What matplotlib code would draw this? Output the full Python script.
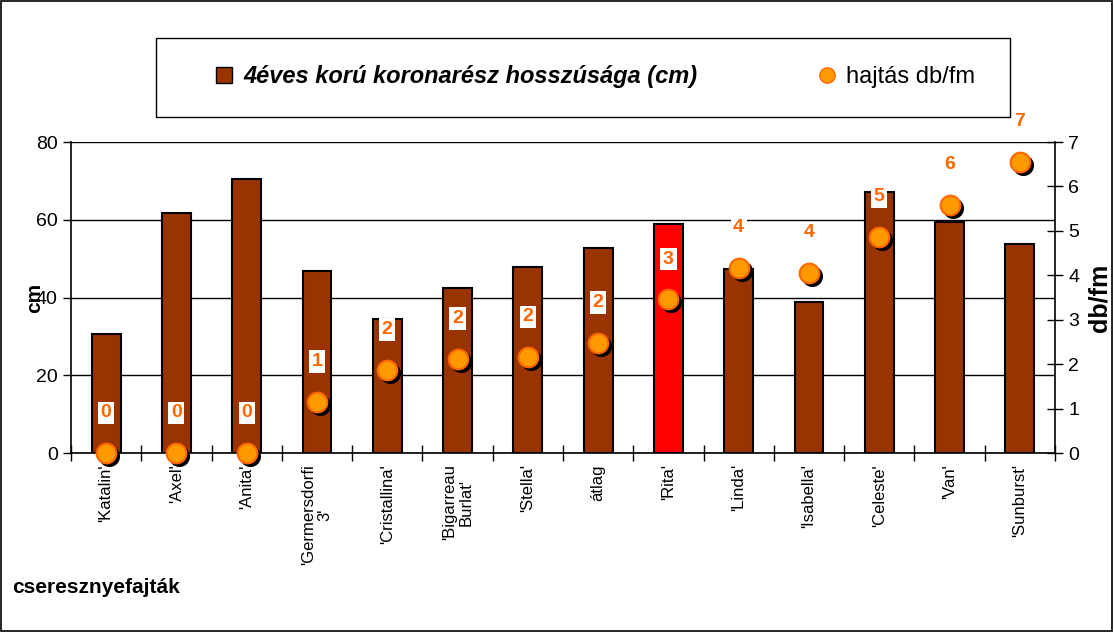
import numpy as np
import matplotlib
matplotlib.use("Agg")
import matplotlib.pyplot as plt
from matplotlib.patches import Rectangle
from matplotlib.lines import Line2D
from matplotlib.transforms import offset_copy

plt.rcParams['font.family'] = ['Liberation Sans', 'DejaVu Sans']

## data
fajtak = ["'Katalin'", "'Axel'", "'Anita'", "'Germersdorfi\n3'", "'Cristallina'",
          "'Bigarreau\nBurlat'", "'Stella'", "átlag", "'Rita'", "'Linda'",
          "'Isabella'", "'Celeste'", "'Van'", "'Sunburst'"]
hossz_cm = [30.6, 61.7, 70.5, 46.8, 34.5, 42.4, 47.8, 52.7, 58.9, 47.3, 38.8, 67.1, 59.4, 53.8]
hajtas_dbfm = [0, 0, 0, 1.15, 1.87, 2.12, 2.16, 2.48, 3.46, 4.16, 4.05, 4.86, 5.58, 6.55]
kiemelt = "'Rita'"

barna = '#993300'
piros = '#FF0000'
narancs = '#FF9900'
narancs_sotet = '#FF6600'

x = np.arange(len(fajtak))
colors = [piros if f == kiemelt else barna for f in fajtak]

fig = plt.figure(figsize=(11.14, 6.32), dpi=100)
ax = fig.add_axes([0.0637, 0.2832, 0.8833, 0.4921])
ax2 = ax.twinx()

# bars - left axis
ax.bar(x, hossz_cm, width=0.41, color=colors, edgecolor='black', linewidth=1.5, zorder=2)
ax.set_ylim(0, 80)
ax.set_yticks([0, 20, 40, 60, 80])
ax.set_xlim(-0.5, len(fajtak) - 0.5)
ax.set_axisbelow(True)
ax.yaxis.grid(True, color='black', linewidth=1)
ax.set_xticks(x)
ax.set_xticklabels(fajtak, rotation=90, fontsize=12, linespacing=1.1, va='top', ha='center')
ax.tick_params(axis='x', which='major', length=0, pad=8)
ax.set_xticks(np.arange(-0.5, len(fajtak), 1), minor=True)
ax.tick_params(axis='x', which='minor', length=12, direction='inout', width=1)
ax.tick_params(axis='y', labelsize=14, length=6, direction='out', width=1)
ax.spines['top'].set_visible(False)
ax.spines['right'].set_visible(False)
ax.spines['left'].set_linewidth(1.2)
ax.spines['bottom'].set_linewidth(1.2)
ax.set_ylabel('cm', fontsize=15, fontweight='bold', labelpad=-6)

# points - right axis
ax2.set_ylim(0, 7)
ax2.set_yticks(range(0, 8))
ax2.tick_params(axis='y', labelsize=14, length=12, direction='inout', width=1)
ax2.spines['top'].set_visible(False)
ax2.spines['left'].set_visible(False)
ax2.spines['bottom'].set_visible(False)
ax2.spines['right'].set_linewidth(1.2)
ax2.set_ylabel('db/fm', fontsize=18, fontweight='bold', labelpad=6)

arnyek = offset_copy(ax2.transData, fig=fig, x=3, y=-3, units='dots')
ax2.scatter(x, hajtas_dbfm, s=200, color='black', transform=arnyek, zorder=3, clip_on=False)
ax2.scatter(x, hajtas_dbfm, s=200, color=narancs, edgecolor=narancs_sotet, linewidth=1.5,
            zorder=4, clip_on=False)
for xi, v in zip(x, hajtas_dbfm):
    ax2.annotate('{0:.0f}'.format(v), (xi, v), xytext=(0, 29), textcoords='offset points',
                 ha='center', va='center', fontsize=14, fontweight='bold', color=narancs_sotet,
                 bbox=dict(facecolor='white', edgecolor='none', pad=2), zorder=5)

# x title
fig.text(0.011, 0.071, 'cseresznyefajták', fontsize=15, fontweight='bold', ha='left', va='center')

# legend box
fig.patches.append(Rectangle((156 / 1114, 1 - 117 / 632), 854 / 1114, 79 / 632,
                             transform=fig.transFigure, facecolor='white',
                             edgecolor='black', linewidth=1, zorder=3))
handles = [Line2D([], [], marker='s', linestyle='none', markersize=11,
                  markerfacecolor=barna, markeredgecolor='black'),
           Line2D([], [], marker='o', linestyle='none', markersize=11,
                  markerfacecolor=narancs, markeredgecolor=narancs_sotet)]
leg = fig.legend(handles, ['4éves korú koronarész hosszúsága (cm)', 'hajtás db/fm'],
                 loc='center', bbox_to_anchor=(0.533, 1 - 77 / 632), ncol=2, frameon=False,
                 fontsize=17, columnspacing=5, handletextpad=0.3, handlelength=1)
leg.set_zorder(6)
leg.get_texts()[0].set_fontstyle('italic')
leg.get_texts()[0].set_fontweight('bold')

# outer frame
fig.patches.append(Rectangle((0.001, 0.002), 0.997, 0.996, transform=fig.transFigure,
                             facecolor='none', edgecolor='black', linewidth=1.2, zorder=3))

plt.savefig('out.png', dpi=100)
